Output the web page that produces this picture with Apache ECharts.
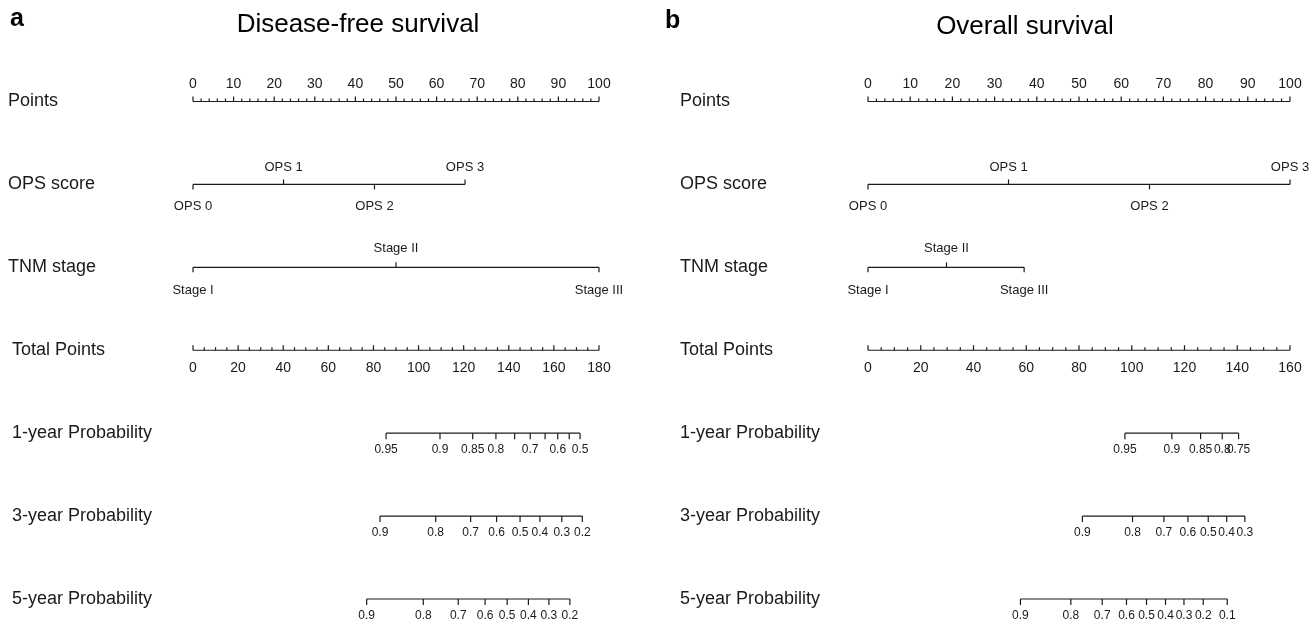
<!DOCTYPE html>
<html><head><meta charset="utf-8">
<script src="https://cdn.jsdelivr.net/npm/echarts@6/dist/echarts.min.js"></script>
<style>html,body{margin:0;padding:0;background:#fff}#c{width:1314px;height:627px}</style>
</head><body><div id="c"></div>
<script>
// ---------- data ----------
const rowNames = ['Points','OPS score','TNM stage','Total Points','1-year Probability','3-year Probability','5-year Probability'];
const pointsTickLabels = [0,10,20,30,40,50,60,70,80,90,100];
const opsLabels = ['OPS 0','OPS 1','OPS 2','OPS 3'];
const opsSides = ['below','above','below','above'];
const tnmLabels = ['Stage I','Stage II','Stage III'];
const tnmSides = ['below','above','below'];

// panel a: Disease-free survival
const dfsOpsPoints = [0, 22.3, 44.7, 67];
const dfsTnmPoints = [0, 50, 100];
const dfsTotalMax = 180;
const dfsTotalTickLabels = [0,20,40,60,80,100,120,140,160,180];
const dfs1yProb   = ['0.95','0.9','0.85','0.8','','0.7','','0.6','','0.5'];
const dfs1yTotal  = [85.6,109.5,124.0,134.3,142.6,149.5,156.1,161.7,166.8,171.6];
const dfs3yProb   = ['0.9','0.8','0.7','0.6','0.5','0.4','0.3','0.2'];
const dfs3yTotal  = [82.9,107.6,123.1,134.6,145.0,153.8,163.5,172.6];
const dfs5yProb   = ['0.9','0.8','0.7','0.6','0.5','0.4','0.3','0.2'];
const dfs5yTotal  = [77.0,102.1,117.6,129.5,139.3,148.7,157.8,167.1];

// panel b: Overall survival
const osOpsPoints = [0, 33.3, 66.7, 100];
const osTnmPoints = [0, 18.6, 37.0];
const osTotalMax = 160;
const osTotalTickLabels = [0,20,40,60,80,100,120,140,160];
const os1yProb  = ['0.95','0.9','0.85','0.8','0.75'];
const os1yTotal = [97.4,115.2,126.1,134.3,140.5];
const os3yProb  = ['0.9','0.8','0.7','0.6','0.5','0.4','0.3'];
const os3yTotal = [81.3,100.3,112.2,121.3,129.0,136.0,142.9];
const os5yProb  = ['0.9','0.8','0.7','0.6','0.5','0.4','0.3','0.2','0.1'];
const os5yTotal = [57.8,76.9,88.8,98.0,105.6,112.8,119.8,127.1,136.2];

// ---------- drawing ----------
const FONT = 'Liberation Sans, Arial, sans-serif';
const INK = '#1a1a1a';
const LW = 1.2;

function seriesFor(grid, axisX, row, ticks, opts) {
  return {
    type: 'custom', xAxisIndex: axisX, yAxisIndex: grid, silent: true,
    data: [[0]],
    renderItem: function (params, api) {
      const children = [];
      const vals = ticks.map(t => t.v);
      const vmin = Math.min.apply(null, vals), vmax = Math.max.apply(null, vals);
      const p0 = api.coord([vmin, row]), p1 = api.coord([vmax, row]);
      children.push({type: 'line', shape: {x1: p0[0], y1: p0[1], x2: p1[0], y2: p1[1]},
        style: {stroke: INK, lineWidth: LW}});
      ticks.forEach(t => {
        const p = api.coord([t.v, row]);
        children.push({type: 'line', shape: {x1: p[0], y1: p[1], x2: p[0], y2: p[1] + t.dir * t.len},
          style: {stroke: INK, lineWidth: LW}});
        if (t.label !== '' && t.label != null) {
          const off = t.side === 'above' ? opts.above : opts.below;
          children.push({type: 'text', x: p[0], y: p[1] + off,
            style: {text: String(t.label), font: opts.size + 'px ' + FONT, fill: INK,
              align: 'center', verticalAlign: 'middle'}});
        }
      });
      return {type: 'group', children: children};
    }
  };
}

function nameSeries(grid, axisX, row, name, pxLeft) {
  return {
    type: 'custom', xAxisIndex: axisX, yAxisIndex: grid, silent: true,
    data: [[0]],
    renderItem: function (params, api) {
      const p = api.coord([0, row]);
      return {type: 'text', x: pxLeft, y: p[1],
        style: {text: name, font: '18px ' + FONT, fill: INK, align: 'left', verticalAlign: 'middle'}};
    }
  };
}

function panel(grid, axPts, axTot, totalMax, totalLabels, opsPts, tnmPts, p1, t1, p3, t3, p5, t5, nameX) {
  const out = [];
  const ptsTicks = [];
  for (let v = 0; v <= 100; v += 2) {
    const major = v % 10 === 0;
    ptsTicks.push({v: v, len: major ? 5 : 3, dir: -1, label: major && pointsTickLabels.includes(v) ? v : '', side: 'above'});
  }
  out.push(seriesFor(grid, axPts, 0, ptsTicks, {above: -17, below: 18, size: 14}));
  out.push(seriesFor(grid, axPts, 1, opsPts.map((v, i) => ({v: v, len: 5, dir: opsSides[i] === 'above' ? -1 : 1,
    label: opsLabels[i], side: opsSides[i]})), {above: -17, below: 22, size: 13}));
  out.push(seriesFor(grid, axPts, 2, tnmPts.map((v, i) => ({v: v, len: 5, dir: tnmSides[i] === 'above' ? -1 : 1,
    label: tnmLabels[i], side: tnmSides[i]})), {above: -19, below: 23, size: 13}));
  const totTicks = [];
  for (let v = 0; v <= totalMax; v += 5) {
    const major = v % 20 === 0;
    totTicks.push({v: v, len: major ? 5 : 3, dir: -1, label: major && totalLabels.includes(v) ? v : '', side: 'below'});
  }
  out.push(seriesFor(grid, axTot, 3, totTicks, {above: -17, below: 18, size: 14}));
  [[p1, t1, 4], [p3, t3, 5], [p5, t5, 6]].forEach(([labs, tots, row]) => {
    out.push(seriesFor(grid, axTot, row, tots.map((v, i) => ({v: v, len: 6, dir: 1, label: labs[i], side: 'below'})),
      {above: -17, below: 17, size: 12}));
  });
  rowNames.forEach((n, i) => {
    const x = Array.isArray(nameX) ? nameX[i] : nameX;
    out.push(nameSeries(grid, axPts, i, n, x));
  });
  return out;
}

const chart = echarts.init(document.getElementById('c'), null, {renderer: 'canvas'});
const hiddenX = (grid, max) => ({type: 'value', gridIndex: grid, min: 0, max: max, show: false});
const hiddenY = (grid) => ({type: 'value', gridIndex: grid, min: 0, max: 6, inverse: true, show: false});

chart.setOption({
  animation: false,
  backgroundColor: '#fff',
  grid: [
    {left: 193, width: 406, top: 101.5, height: 497.5},
    {left: 868, width: 422, top: 101.5, height: 497.5}
  ],
  xAxis: [hiddenX(0, 100), hiddenX(0, dfsTotalMax), hiddenX(1, 100), hiddenX(1, osTotalMax)],
  yAxis: [hiddenY(0), hiddenY(1)],
  graphic: [
    {type: 'text', left: 10, top: 7, style: {text: 'a', font: 'bold 25px ' + FONT, fill: '#000'}},
    {type: 'text', left: 665, top: 9, style: {text: 'b', font: 'bold 25px ' + FONT, fill: '#000'}},
    {type: 'text', x: 358, y: 25, style: {text: 'Disease-free survival', font: '26px ' + FONT, fill: '#000', align: 'center', verticalAlign: 'middle'}},
    {type: 'text', x: 1025, y: 27, style: {text: 'Overall survival', font: '26px ' + FONT, fill: '#000', align: 'center', verticalAlign: 'middle'}}
  ],
  series: [].concat(
    panel(0, 0, 1, dfsTotalMax, dfsTotalTickLabels, dfsOpsPoints, dfsTnmPoints,
      dfs1yProb, dfs1yTotal, dfs3yProb, dfs3yTotal, dfs5yProb, dfs5yTotal, [8, 8, 8, 12, 12, 12, 12]),
    panel(1, 2, 3, osTotalMax, osTotalTickLabels, osOpsPoints, osTnmPoints,
      os1yProb, os1yTotal, os3yProb, os3yTotal, os5yProb, os5yTotal, 680)
  )
});
</script></body></html>
